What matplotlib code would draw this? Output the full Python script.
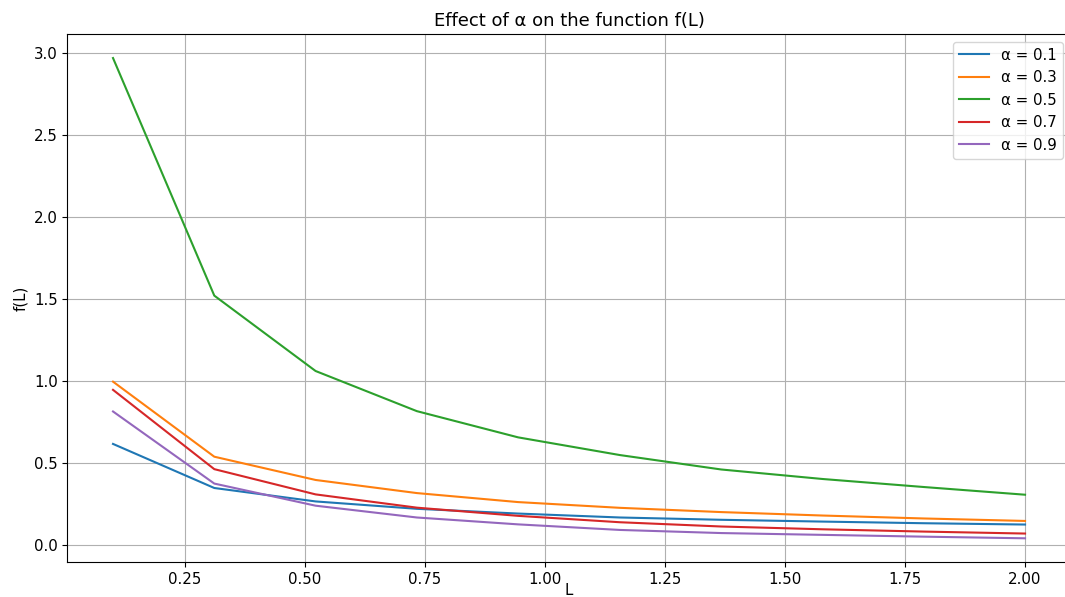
import numpy as np
import matplotlib.pyplot as plt

# Valores de L (10 puntos entre 0.1 y 2.0)
L = [0.1, 0.311, 0.522, 0.733, 0.944, 1.156, 1.367, 1.578, 1.789, 2.0]

f_01 = [0.615, 0.346, 0.264, 0.219, 0.190, 0.166, 0.152, 0.141, 0.131, 0.123]
f_03 = [0.995, 0.537, 0.395, 0.315, 0.260, 0.225, 0.199, 0.178, 0.160, 0.145]
f_05 = [2.97, 1.52, 1.06, 0.815, 0.655, 0.547, 0.459, 0.401, 0.352, 0.305]
f_07 = [0.945, 0.461, 0.307, 0.226, 0.176, 0.137, 0.111, 0.094, 0.080, 0.068]
f_09 = [0.813, 0.373, 0.238, 0.166, 0.124, 0.090, 0.071, 0.060, 0.049, 0.039]

alphas = [0.1, 0.3, 0.5, 0.7, 0.9]
series = [f_01, f_03, f_05, f_07, f_09]

plt.rcParams['font.size'] = 10.8

fig = plt.figure(figsize=(10.65, 5.97), dpi=100)
# el eje derecho queda recortado como en la imagen original
plt.subplots_adjust(left=0.0633, right=1.0053, top=0.943, bottom=0.0581)

for a, vals in zip(alphas, series):
    plt.plot(L, vals, label=f'α = {a}')

plt.xlabel('L', labelpad=-3)
plt.ylabel('f(L)')
plt.title('Effect of α on the function f(L)')
plt.legend(loc='upper right')
plt.grid(True)
plt.savefig('out.png', dpi=100)
